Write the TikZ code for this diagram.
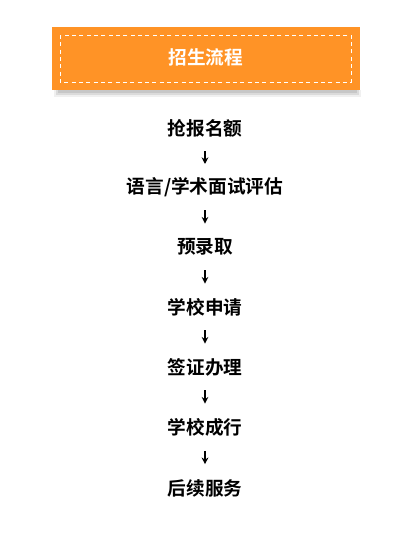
\documentclass[tikz,border=0pt]{standalone}
\usepackage{fontspec}
\newfontfamily\cjk{Noto Sans CJK SC Bold}
\usetikzlibrary{arrows.meta}
\definecolor{bannerorange}{RGB}{255,147,38}
\tikzset{
  stepbox/.style={font=\cjk\fontsize{14}{16}\selectfont, text=black, inner sep=1pt},
  flowarrow/.style={-{Stealth[length=5pt,width=5pt]}, line width=1.3pt, black},
}
\begin{document}
\begin{tikzpicture}[x=0.75pt,y=-0.75pt]
\useasboundingbox (0,0) rectangle (416,537);
\fill[black!6] (54,90) rectangle (361,97);
\fill[black!14] (56,90) rectangle (359,95);
\fill[black!22] (58,90) rectangle (357,93);
\fill[bannerorange] (52,27) rectangle (360,90);
\draw[white, line width=0.7pt, dash pattern=on 3pt off 2.5pt] (60,35) rectangle (351,82);
\node[font=\cjk\fontsize{14}{16}\selectfont, text=white] (title) at (206,57) {招生流程};
\node[stepbox] (s1) at (205,128) {抢报名额};
\node[stepbox] (s2) at (205,187) {语言/学术面试评估};
\node[stepbox] (s3) at (205,247) {预录取};
\node[stepbox] (s4) at (205,307) {学校申请};
\node[stepbox] (s5) at (205,367) {签证办理};
\node[stepbox] (s6) at (205,427) {学校成行};
\node[stepbox] (s7) at (205,488) {后续服务};
\foreach \a/\b in {s1/s2,s2/s3,s3/s4,s4/s5,s5/s6,s6/s7}{
  \path (\a.center) -- (\b.center) coordinate[pos=0.39] (m1-\a) coordinate[pos=0.61] (m2-\a);
  \draw[flowarrow] (m1-\a) -- (m2-\a);
}
\end{tikzpicture}
\end{document}
